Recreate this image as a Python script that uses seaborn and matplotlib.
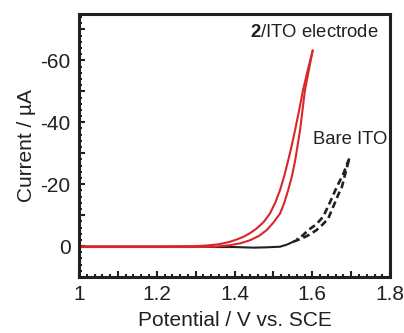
import numpy as np
import matplotlib
matplotlib.use('Agg')
import matplotlib.pyplot as plt
import seaborn as sns
from matplotlib.ticker import MultipleLocator, FuncFormatter

sns.set_style('ticks')
plt.rcParams['font.family'] = ['Liberation Sans', 'DejaVu Sans']
plt.rcParams['mathtext.fontset'] = 'custom'
plt.rcParams['mathtext.rm'] = 'Liberation Sans'
plt.rcParams['mathtext.bf'] = 'Liberation Sans:bold'

# 2/ITO electrode, inner and outer branch of the sweep
ito2_fwd_x = [1.0, 1.1, 1.2, 1.3, 1.35, 1.388, 1.415, 1.44, 1.463, 1.483, 1.50, 1.517, 1.528, 1.538,
              1.548, 1.556, 1.5685, 1.581, 1.591, 1.601]
ito2_fwd_y = [0.3, 0.3, 0.3, 0.3, 0.2, -0.3, -0.9, -1.9, -3.3, -5.2, -7.6, -10.5, -14.0, -18.1,
              -22.8, -27.7, -37.4, -50.3, -56.8, -63.2]
ito2_rev_x = [1.601, 1.588, 1.576, 1.566, 1.5556, 1.547, 1.538, 1.528, 1.517, 1.505, 1.491, 1.475,
              1.457, 1.44, 1.423, 1.405, 1.388, 1.36, 1.33, 1.3, 1.2, 1.1, 1.0]
ito2_rev_y = [-63.2, -56.7, -50.3, -43.8, -37.4, -32.4, -27.7, -22.7, -18.1, -14.1, -10.5, -7.8,
              -5.7, -4.2, -3.0, -2.1, -1.4, -0.6, -0.2, 0.0, 0.1, 0.1, 0.1]

# bare ITO: flat part, then the loop
bare_base_x = [1.0, 1.1, 1.2, 1.3, 1.35, 1.40, 1.45, 1.48, 1.517, 1.535, 1.551]
bare_base_y = [0.2, 0.2, 0.2, 0.2, 0.3, 0.3, 0.5, 0.4, 0.2, -0.5, -1.4]
bare_fwd_x = [1.551, 1.575, 1.593, 1.611, 1.626, 1.641, 1.648, 1.656, 1.666, 1.676, 1.684, 1.695]
bare_fwd_y = [-1.4, -2.6, -3.7, -5.2, -6.9, -8.9, -11.0, -13.4, -16.4, -19.1, -23.0, -28.3]
bare_rev_x = [1.695, 1.680, 1.663, 1.646, 1.628, 1.610, 1.590, 1.575, 1.56]
bare_rev_y = [-28.3, -23.4, -19.1, -14.3, -9.5, -7.0, -5.2, -3.4, -2.2]

red = '#d8262c'
ink = '#231f20'

fig = plt.figure(figsize=(4.04, 3.33), dpi=100)
ax = fig.add_axes([0.1955, 0.168, 0.77, 0.79])

sns.lineplot(x=bare_base_x, y=bare_base_y, sort=False, estimator=None, color=ink, lw=1.5, ax=ax)
for bx, by in [(bare_fwd_x, bare_fwd_y), (bare_rev_x, bare_rev_y)]:
    sns.lineplot(x=bx, y=by, sort=False, estimator=None, color=ink, lw=1.9,
                 linestyle=(0, (2.6, 1.5)), ax=ax)
for rx, ry in [(ito2_fwd_x, ito2_fwd_y), (ito2_rev_x, ito2_rev_y)]:
    sns.lineplot(x=rx, y=ry, sort=False, estimator=None, color=red, lw=1.5, ax=ax)

ax.set_xlim(1.0, 1.8)
ax.set_ylim(10, -75)

ax.xaxis.set_major_locator(MultipleLocator(0.1))
ax.xaxis.set_minor_locator(MultipleLocator(0.02))
ax.yaxis.set_major_locator(MultipleLocator(10))
ax.yaxis.set_minor_locator(MultipleLocator(2))

def xfmt(v, pos):
    k = int(round(v * 10))
    if k % 2:
        return ''
    return '1' if k == 10 else f'{v:.1f}'

def yfmt(v, pos):
    k = int(round(v))
    if k % 20:
        return ''
    return f'{k}'.replace('\u2212', '-')

ax.xaxis.set_major_formatter(FuncFormatter(xfmt))
ax.yaxis.set_major_formatter(FuncFormatter(yfmt))

ax.tick_params(which='both', direction='in', colors=ink, top=False, right=False)
ax.tick_params(which='major', length=4.5, width=1.5, labelsize=15, pad=6)
ax.tick_params(which='minor', length=2.5, width=1.5)
for s in ax.spines.values():
    s.set_linewidth(2.2)
    s.set_color(ink)

ax.set_xlabel('Potential / V vs. SCE', fontsize=15, color=ink, labelpad=5)
ax.set_ylabel('Current / \u00b5A', fontsize=15, color=ink, labelpad=3)

ax.text(1.44, -69, r'$\mathbf{2}$/ITO electrode', fontsize=13.3, color=ink, va='center', ha='left')
ax.text(1.602, -34.5, 'Bare ITO', fontsize=13.3, color=ink, va='center', ha='left')

fig.savefig('out.png', dpi=100)
